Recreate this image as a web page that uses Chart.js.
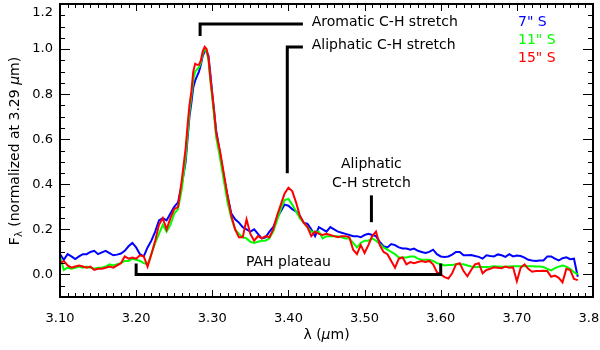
<!DOCTYPE html>
<html>
<head>
<meta charset="utf-8">
<script src="https://cdn.jsdelivr.net/npm/chart.js@4.4.0/dist/chart.umd.min.js"></script>
<style>
  html, body { margin: 0; padding: 0; background: #fff; }
  canvas { display: block; }
</style>
</head>
<body>
<canvas id="spectrum" width="600" height="350"></canvas>
<script>
// wavelength grid (micron)
const wavelength = [
  3.100, 3.105, 3.110, 3.115, 3.120, 3.125, 3.130, 3.135, 3.140, 3.145,
  3.150, 3.155, 3.160, 3.165, 3.170, 3.175, 3.180, 3.185, 3.190, 3.195,
  3.200, 3.205, 3.210, 3.215, 3.220, 3.225, 3.230, 3.235, 3.240, 3.245,
  3.250, 3.255, 3.260, 3.265, 3.2675, 3.270, 3.2725, 3.275, 3.2775, 3.280,
  3.2825, 3.285, 3.2875, 3.290, 3.2925, 3.295, 3.2975, 3.300, 3.3025, 3.305,
  3.310, 3.315, 3.320, 3.325, 3.330, 3.335, 3.340, 3.345, 3.350, 3.355,
  3.360, 3.365, 3.370, 3.375, 3.380, 3.385, 3.390, 3.395, 3.400, 3.405,
  3.410, 3.415, 3.420, 3.425, 3.430, 3.435, 3.440, 3.445, 3.450, 3.455,
  3.460, 3.465, 3.470, 3.475, 3.480, 3.485, 3.490, 3.495, 3.500, 3.505,
  3.510, 3.515, 3.520, 3.525, 3.530, 3.535, 3.540, 3.545, 3.550, 3.555,
  3.560, 3.565, 3.570, 3.575, 3.580, 3.585, 3.590, 3.595, 3.600, 3.605,
  3.610, 3.615, 3.620, 3.625, 3.630, 3.635, 3.640, 3.645, 3.650, 3.655,
  3.660, 3.665, 3.670, 3.675, 3.680, 3.685, 3.690, 3.695, 3.700, 3.705,
  3.710, 3.715, 3.720, 3.725, 3.730, 3.735, 3.740, 3.745, 3.750, 3.755,
  3.760, 3.765, 3.770, 3.775, 3.780
];

// 7" S
const flux7 = [
  0.09, 0.065, 0.09, 0.08, 0.068, 0.08, 0.09, 0.09, 0.10, 0.105,
  0.09, 0.098, 0.105, 0.095, 0.085, 0.088, 0.093, 0.105, 0.125, 0.14,
  0.12, 0.09, 0.08, 0.12, 0.15, 0.19, 0.24, 0.25, 0.24, 0.27,
  0.30, 0.32, 0.40, 0.50, 0.60, 0.70, 0.76, 0.83, 0.86, 0.88,
  0.90, 0.93, 0.97, 0.99, 0.99, 0.97, 0.89, 0.80, 0.72, 0.64,
  0.54, 0.44, 0.35, 0.27, 0.245, 0.23, 0.21, 0.20, 0.19, 0.20,
  0.18, 0.16, 0.165, 0.19, 0.21, 0.25, 0.28, 0.31, 0.305, 0.29,
  0.28, 0.26, 0.23, 0.225, 0.20, 0.17, 0.21, 0.20, 0.19, 0.21,
  0.20, 0.19, 0.185, 0.18, 0.175, 0.17, 0.17, 0.165, 0.175, 0.18,
  0.175, 0.17, 0.145, 0.125, 0.12, 0.135, 0.13, 0.12, 0.115, 0.115,
  0.11, 0.115, 0.105, 0.10, 0.095, 0.10, 0.11, 0.09, 0.08, 0.078,
  0.08, 0.088, 0.10, 0.10, 0.085, 0.085, 0.086, 0.082, 0.078, 0.07,
  0.085, 0.082, 0.08, 0.089, 0.085, 0.078, 0.09, 0.08, 0.084, 0.082,
  0.075, 0.065, 0.062, 0.06, 0.062, 0.062, 0.08, 0.08, 0.07, 0.062,
  0.072, 0.076, 0.068, 0.07, -0.01
];

// 11" S
const flux11 = [
  0.08, 0.02, 0.03, 0.025, 0.03, 0.035, 0.03, 0.035, 0.03, 0.025,
  0.03, 0.03, 0.035, 0.045, 0.04, 0.045, 0.05, 0.06, 0.06, 0.07,
  0.065, 0.06, 0.05, 0.045, 0.09, 0.14, 0.18, 0.22, 0.19, 0.22,
  0.27, 0.29, 0.38, 0.52, 0.62, 0.72, 0.79, 0.86, 0.90, 0.91,
  0.92, 0.94, 0.98, 1.00, 0.99, 0.95, 0.86, 0.78, 0.70, 0.61,
  0.52, 0.42, 0.32, 0.25, 0.20, 0.18, 0.165, 0.16, 0.145, 0.14,
  0.145, 0.15, 0.15, 0.16, 0.19, 0.24, 0.29, 0.33, 0.335, 0.31,
  0.28, 0.25, 0.23, 0.21, 0.19, 0.19, 0.19, 0.16, 0.17, 0.17,
  0.17, 0.17, 0.165, 0.16, 0.16, 0.14, 0.12, 0.14, 0.15, 0.15,
  0.16, 0.15, 0.135, 0.12, 0.11, 0.10, 0.09, 0.075, 0.075, 0.075,
  0.08, 0.08, 0.07, 0.065, 0.065, 0.065, 0.06, 0.05, 0.045, 0.04,
  0.042, 0.042, 0.045, 0.045, 0.045, 0.04, 0.035, 0.033, 0.033, 0.033,
  0.033, 0.034, 0.036, 0.035, 0.034, 0.034, 0.035, 0.036, 0.036, 0.036,
  0.036, 0.036, 0.036, 0.035, 0.035, 0.033, 0.025, 0.018, 0.028, 0.035,
  0.04, 0.035, 0.025, 0.01, 0.0
];

// 15" S
const flux15 = [
  0.05, 0.06, 0.04, 0.03, 0.035, 0.04, 0.035, 0.03, 0.035, 0.02,
  0.025, 0.025, 0.03, 0.035, 0.03, 0.04, 0.05, 0.08, 0.07, 0.075,
  0.07, 0.085, 0.08, 0.035, 0.09, 0.15, 0.22, 0.25, 0.20, 0.25,
  0.29, 0.30, 0.42, 0.56, 0.66, 0.75, 0.81, 0.90, 0.935, 0.93,
  0.93, 0.95, 0.99, 1.01, 1.00, 0.96, 0.87, 0.80, 0.72, 0.63,
  0.55, 0.45, 0.35, 0.26, 0.20, 0.165, 0.165, 0.245, 0.18, 0.15,
  0.17, 0.16, 0.17, 0.165, 0.20, 0.26, 0.31, 0.36, 0.385, 0.37,
  0.32, 0.26, 0.23, 0.21, 0.17, 0.19, 0.18, 0.175, 0.18, 0.175,
  0.17, 0.165, 0.17, 0.17, 0.165, 0.11, 0.09, 0.13, 0.095, 0.13,
  0.17, 0.19, 0.13, 0.10, 0.09, 0.06, 0.03, 0.07, 0.075, 0.045,
  0.055, 0.05, 0.055, 0.06, 0.055, 0.06, 0.045, 0.01, 0.0, -0.012,
  -0.018, 0.005, 0.045, 0.05, 0.015, -0.008, 0.02, 0.045, 0.05, 0.005,
  0.02, 0.025, 0.032, 0.03, 0.028, 0.035, 0.03, 0.032, -0.03, 0.03,
  0.045, 0.025, 0.012, 0.015, 0.015, 0.016, 0.015, -0.01, -0.005, -0.015,
  -0.035, 0.025, 0.02, -0.02, -0.025
];

const seriesLabels = ['7" S', '11" S', '15" S'];
const seriesColors = ['#0000ff', '#00ff00', '#ff0000'];

const xTickLabels = ['3.10', '3.20', '3.30', '3.40', '3.50', '3.60', '3.70', '3.80'];
const yTickLabels = ['0.0', '0.2', '0.4', '0.6', '0.8', '1.0', '1.2'];
const xTicks = xTickLabels.map(Number);
const yTicks = yTickLabels.map(Number);

const FONT = '13px "DejaVu Sans"';
const TEXT_FONT = '14px "DejaVu Sans"';

// IDL-style box: frame, inward ticks, y labels, titles, annotations, legend
const idlAxes = {
  id: 'idlAxes',
  afterDatasetsDraw(chart) {
    const { ctx, chartArea: a, scales: { x, y } } = chart;
    const line = (x1, y1, x2, y2) => {
      ctx.beginPath(); ctx.moveTo(x1, y1); ctx.lineTo(x2, y2); ctx.stroke();
    };
    ctx.save();
    ctx.strokeStyle = '#000';
    ctx.fillStyle = '#000';

    // ticks on all four sides, pointing inward
    ctx.lineWidth = 1;
    for (let i = 0; i <= 70; i++) {
      const px = Math.round(x.getPixelForValue(3.10 + i * 0.01)) + 0.5;
      const len = i % 10 === 0 ? 7 : 4;
      line(px, a.bottom, px, a.bottom - len);
      line(px, a.top, px, a.top + len);
    }
    for (let i = 0; i <= 26; i++) {
      const v = -0.1 + i * 0.05;
      const major = Math.abs(v / 0.2 - Math.round(v / 0.2)) < 1e-6;
      const py = Math.round(y.getPixelForValue(v)) + 0.5;
      const len = major ? 10 : 5;
      line(a.left, py, a.left + len, py);
      line(a.right, py, a.right - len, py);
    }
    ctx.lineWidth = 2;
    ctx.strokeRect(a.left, a.top, a.right - a.left, a.bottom - a.top);

    // y tick labels
    ctx.font = FONT;
    ctx.textAlign = 'right';
    ctx.textBaseline = 'middle';
    yTicks.forEach((v, i) => {
      const py = Math.max(y.getPixelForValue(v), a.top + 9);
      ctx.fillText(yTickLabels[i], a.left - 7, py);
    });

    // x title: λ (μm)
    drawRun(ctx, [['λ (', TEXT_FONT], ['μ', 'italic ' + TEXT_FONT], ['m)', TEXT_FONT]],
            (a.left + a.right) / 2, 335);

    // y title: Fλ (normalized at 3.29 μm), rotated
    ctx.save();
    ctx.translate(15, 151);
    ctx.rotate(-Math.PI / 2);
    drawRun(ctx, [['F', TEXT_FONT], ['λ', '10px "DejaVu Sans"', 4], [' (normalized at 3.29 ', TEXT_FONT],
                  ['μ', 'italic ' + TEXT_FONT], ['m)', TEXT_FONT]], 0, 0);
    ctx.restore();

    // annotation brackets (data coordinates)
    ctx.lineWidth = 3;
    ctx.lineCap = 'butt';
    const X = v => x.getPixelForValue(v), Y = v => y.getPixelForValue(v);
    const poly = pts => {
      ctx.beginPath();
      pts.forEach(([u, w], k) => k ? ctx.lineTo(X(u), Y(w)) : ctx.moveTo(X(u), Y(w)));
      ctx.stroke();
    };
    poly([[3.284, 1.058], [3.284, 1.111], [3.419, 1.111]]);
    poly([[3.3985, 0.449], [3.3985, 1.009], [3.419, 1.009]]);
    poly([[3.509, 0.232], [3.509, 0.351]]);
    poly([[3.20, 0.049], [3.20, 0.0], [3.60, 0.0], [3.60, 0.049]]);

    ctx.font = TEXT_FONT;
    ctx.textBaseline = 'middle';
    ctx.textAlign = 'left';
    ctx.fillText('Aromatic C-H stretch', X(3.4306), Y(1.12));
    ctx.fillText('Aliphatic C-H stretch', X(3.4306), Y(1.018));
    ctx.textAlign = 'center';
    ctx.fillText('Aliphatic', X(3.509), Y(0.489));
    ctx.fillText('C-H stretch', X(3.509), Y(0.404));
    ctx.fillText('PAH plateau', X(3.40), Y(0.055));

    // legend text in series colours
    ctx.textAlign = 'left';
    chart.data.datasets.forEach((ds, i) => {
      ctx.fillStyle = ds.borderColor;
      ctx.fillText(ds.label, a.right - 75, 22 + i * 18);
    });
    ctx.restore();
  }
};

// draws a run of text pieces [text, font, dy] centred on (cx, cy)
function drawRun(ctx, parts, cx, cy) {
  ctx.textBaseline = 'middle';
  ctx.textAlign = 'left';
  let total = 0;
  parts.forEach(p => { ctx.font = p[1]; total += ctx.measureText(p[0]).width; });
  let px = cx - total / 2;
  parts.forEach(p => {
    ctx.font = p[1];
    ctx.fillText(p[0], px, cy + (p[2] || 0));
    px += ctx.measureText(p[0]).width;
  });
}

const series = [flux7, flux11, flux15];

new Chart(document.getElementById('spectrum').getContext('2d'), {
  type: 'line',
  data: {
    datasets: series.map((flux, i) => ({
      label: seriesLabels[i],
      data: wavelength.map((w, k) => ({ x: w, y: flux[k] })),
      borderColor: seriesColors[i],
      backgroundColor: seriesColors[i],
      order: 3 - i
    }))
  },
  options: {
    responsive: false,
    animation: false,
    devicePixelRatio: 1,
    layout: { padding: { top: 4, right: 7, left: 60, bottom: 0 } },
    plugins: { legend: { display: false }, tooltip: { enabled: false } },
    elements: {
      point: { radius: 0 },
      line: { borderWidth: 2, tension: 0 }
    },
    scales: {
      x: {
        type: 'linear',
        min: 3.10,
        max: 3.80,
        grid: { display: false },
        border: { display: false },
        afterBuildTicks: s => { s.ticks = xTicks.map(v => ({ value: v })); },
        afterFit: s => { s.height = 53; s.paddingLeft = 0; s.paddingRight = 0; },
        ticks: {
          autoSkip: false,
          maxRotation: 0,
          padding: 6,
          color: '#000',
          font: { family: 'DejaVu Sans', size: 13 },
          callback: (v, i) => xTickLabels[i]
        }
      },
      y: {
        display: false,
        min: -0.1,
        max: 1.2
      }
    }
  },
  plugins: [idlAxes]
});
</script>
</body>
</html>
